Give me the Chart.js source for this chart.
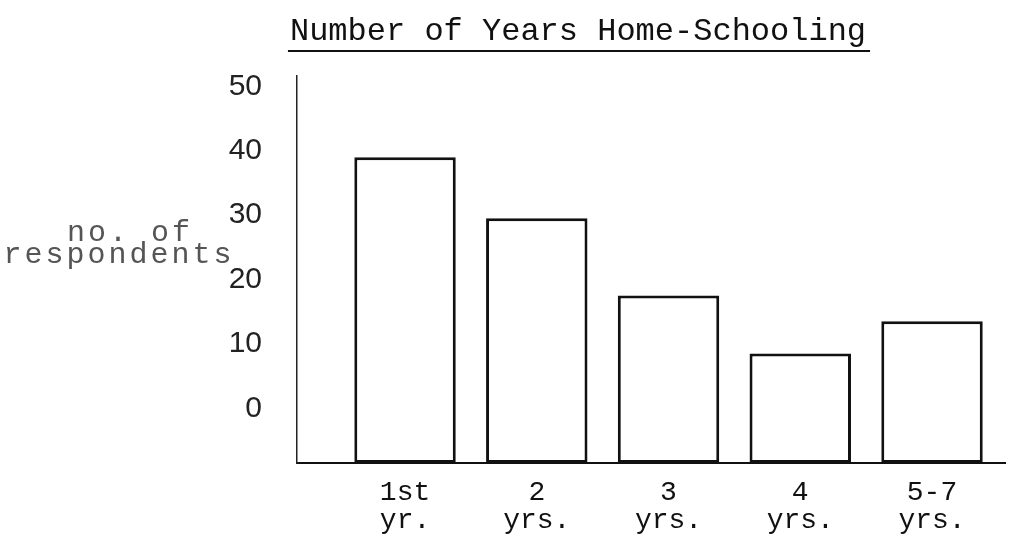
<!DOCTYPE html>
<html>
<head>
<meta charset="utf-8">
<title>Number of Years Home-Schooling</title>
<script src="https://cdn.jsdelivr.net/npm/chart.js@4.4.1/dist/chart.umd.min.js"></script>
<style>
  html, body { margin: 0; padding: 0; background: #fff; }
  #wrap { width: 1017px; height: 547px; }
</style>
</head>
<body>
<div id="wrap"><canvas id="barChart" width="1017" height="547"></canvas></div>
<script>
/*==========================================================
DATOS
==========================================================*/
var categorias = ["1st\nyr.", "2\nyrs.", "3\nyrs.", "4\nyrs.", "5-7\nyrs."];
var respondentes = [39, 29.5, 17.5, 8.5, 13.5];
var ticksY = [0, 10, 20, 30, 40, 50];
var tituloY = ["no. of", "respondents"];

var tinta = "#111";
var fuenteMaquina = '"Liberation Mono", "DejaVu Sans Mono", monospace';

// subrayado del titulo y titulo horizontal del eje Y
var textosExtra = {
  id: "textosExtra",
  afterDraw: function (chart) {
    var ctx = chart.ctx;
    var tb = chart.titleBlock;
    var opts = chart.options.plugins.title;
    ctx.save();
    ctx.font = "32px " + fuenteMaquina;
    var w = ctx.measureText(opts.text).width;
    var cx = (tb.left + tb.right) / 2;
    ctx.strokeStyle = tinta;
    ctx.lineWidth = 2;
    ctx.beginPath();
    ctx.moveTo(cx - w / 2 - 2, 51);
    ctx.lineTo(cx + w / 2 + 4, 51);
    ctx.stroke();

    ctx.fillStyle = "#555";
    ctx.font = "30px " + fuenteMaquina;
    ctx.letterSpacing = "3px";
    ctx.textAlign = "center";
    ctx.textBaseline = "middle";
    ctx.fillText(tituloY[0], 130, 233);
    ctx.fillText(tituloY[1], 119, 255);
    ctx.restore();
  },
};

var ctxB = document.getElementById("barChart").getContext("2d");
new Chart(ctxB, {
  type: "bar",
  data: {
    datasets: [
      {
        label: "no. of respondents",
        data: respondentes.map(function (v, i) {
          return { x: i + 1, y: v };
        }),
        base: -8.5,
        backgroundColor: "#fff",
        borderColor: tinta,
        borderWidth: 3,
        borderSkipped: false,
        barPercentage: 0.77,
        categoryPercentage: 1,
      },
    ],
  },
  options: {
    responsive: false,
    animation: false,
    layout: { padding: { left: 151, right: 12, top: 0, bottom: 0 } },
    plugins: {
      legend: { display: false },
      tooltip: { enabled: false },
      title: {
        display: true,
        text: "Number of Years Home-Schooling",
        color: tinta,
        font: { family: fuenteMaquina, size: 32, weight: "normal", lineHeight: 1.2 },
        padding: { top: 12, bottom: 25 },
      },
    },
    scales: {
      x: {
        type: "linear",
        offset: false,
        min: 0.18,
        max: 5.554,
        grid: { display: false, drawTicks: false, offset: false },
        border: { display: true, color: tinta, width: 2 },
        afterBuildTicks: function (scale) {
          scale.ticks = categorias.map(function (c, i) {
            return { value: i + 1 };
          });
        },
        afterFit: function (scale) {
          scale.height = 84;
        },
        ticks: {
          color: tinta,
          padding: 16,
          maxRotation: 0,
          autoSkip: false,
          font: { family: fuenteMaquina, size: 28, lineHeight: 1 },
          callback: function (value) {
            return categorias[value - 1].split("\n");
          },
        },
      },
      y: {
        min: -8.5,
        max: 51.7,
        grid: { display: false, drawTicks: false },
        border: { display: true, color: "#222", width: 1.5 },
        afterBuildTicks: function (scale) {
          scale.ticks = ticksY.map(function (v) {
            return { value: v };
          });
        },
        afterFit: function (scale) {
          scale.width = 146;
        },
        ticks: {
          color: "#222",
          padding: 35,
          font: { family: '"Liberation Sans", Arial, sans-serif', size: 30 },
        },
      },
    },
  },
  plugins: [textosExtra],
});
</script>
</body>
</html>
